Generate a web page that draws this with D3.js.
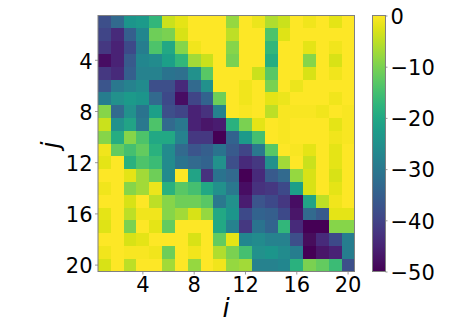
<!DOCTYPE html>
<html>
<head>
<meta charset="utf-8">
<script src="https://cdn.jsdelivr.net/npm/d3@7"></script>
<style>
    html, body { margin: 0; padding: 0; background: #fff; }
    text { font-family: "DejaVu Sans", sans-serif; fill: #000; }
</style>
</head>
<body>
<script>
const indices = d3.range(1, 21)
const tick_labels = [4, 8, 12, 16, 20]
const colorbar_ticks = [0, -10, -20, -30, -40, -50]
const values = [
    [-38, -33, -24, -23, -17, -4, -2, 0, 0, 0, -8, 0, -1.5, -6, -4, 0, -1, 0, -2, 0],
    [-40, -44, -35, -27, -11, -10, -3, 0, 0, 0, -5, 0, 0, -14, -2.5, 0, 0, 0, 0, 0],
    [-42, -45, -39, -29, -14, -20, -9, -1, 0, 0, -9, 0, 0, -17, 0, 0, -2, 0, -1, 0],
    [-48, -45, -36, -27, -26, -22, -17, -7, -4, 0, -10, 0, 0, -19, 0, 0, -9, 0, -3, 0],
    [-42, -44, -35, -28, -28, -31, -32, -25, -13, 0, 0, 0, -4, -13, 0, 0, -3, 0, -1, 0],
    [-37, -30, -28, -26, -38, -38, -44, -33, -25, 0, 0, -1, 0, -10, 0, -1.5, 0, 0, 0, 0],
    [-29, -25, -23, -24, -33, -39, -48, -40, -34, -11, 0, -1, 0, -2, -1.5, 0, 0, 0, -1, 0],
    [-9, -33, -25, -31, -22, -38, -40, -45, -43, -28, 0, -0.5, 0, -5, -0.5, -0.5, -0.5, -1, 0, -0.5],
    [-4, -25, -21, -30, -14, -33, -30, -45, -47, -46, -18, -10, -2, 0, -0.5, 0, 0, 0, -2, -0.5],
    [-9, -19, -9, -14, -20, -20, -28, -42, -42, -50, -34, -23, -15, 0, -0.5, 0, 0, 0, -1, -0.5],
    [-1, -12, -15, -12, -18, -26, -33, -37, -35, -31, -36, -40, -30, -13, 0, -0.5, -2, 0, -2, 0],
    [-2, 0, -18, -14, -16, -26, -31, -33, -34, -25, -38, -44, -42, -25, -7, 0, -4, 0, -2, 0],
    [0, 0, -2, -7, -11, -26, 0, -21, -43, -31, -33, -50, -44, -36, -33, -8, -3, 0, -3, 0],
    [-1, 0, -9, -7, -1.5, -18, -13, -15, -20, -25, -30, -48, -43, -42, -39, -22, -3, 0, -2, 0],
    [0, 0, -3, 0, -5, -9, -11, -11, -13, -30, -25, -46, -37, -39, -42, -48, -21, -5, -1, 0],
    [-2, 0, -5, -1, -1, -9, -7, -3, -8, -20, -24, -39, -34, -35, -39, -47, -33, -36, -2, -2],
    [-2.5, 0, -10, 0, -2, -12, 0, 0, 0, -20, -28, -42, -31, -34, -17, -44, -50, -50, -9, -9],
    [0, 0, -3, -2, 0, 0, 0, -3, 0, -12, -2, -27, -26, -28, -28, -38, -49, -44, -39, -29],
    [-1, 0, -0.5, -0.5, -1, -11, 0, -1, 0, -6, -10, -15, -25, -24, -26, -29, -50, -47, -45, -29],
    [-3, 0, -5, 0, 0, -7, 0, -8, 0, -1, -8, -7, -28, -28, -27, -18, -10, -12, -16, -38],
]

const width = 449
const height = 320
const frame_color = "#808080"
const plot = { left: 98, top: 15.5, right: 354.5, bottom: 271.5 }
const bar = { left: 372.5, right: 385.5 }

const svg = d3.select("body")
    .append("svg")
    .attr("width", width)
    .attr("height", height)
    .style("display", "block")

const x = d3.scaleBand().domain(indices).range([plot.left, plot.right])
const y = d3.scaleBand().domain(indices).range([plot.top, plot.bottom])
const color = d3.scaleSequential(d3.interpolateViridis).domain([-50, 0])

// the reference is a resampled raster, so soften the cell edges a little
const soften = svg.append("defs")
    .append("filter")
    .attr("id", "soften")
    .attr("x", 0).attr("y", 0)
    .attr("width", 1).attr("height", 1)
soften.append("feGaussianBlur").attr("stdDeviation", 0.5)

// heatmap cells, one row of the matrix per g
svg.append("g")
    .attr("filter", "url(#soften)")
    .selectAll("g")
    .data(values)
    .join("g")
    .attr("transform", (_, r) => `translate(0,${y(r + 1)})`)
    .selectAll("rect")
    .data((row) => row)
    .join("rect")
    .attr("x", (_, c) => x(c + 1))
    .attr("width", x.bandwidth() + 0.5)
    .attr("height", y.bandwidth() + 0.5)
    .attr("shape-rendering", "crispEdges")
    .attr("fill", (d) => color(d))

svg.append("rect")
    .attr("x", plot.left)
    .attr("y", plot.top)
    .attr("width", plot.right - plot.left)
    .attr("height", plot.bottom - plot.top)
    .attr("fill", "none")
    .attr("stroke", frame_color)

const style_axis = (g, font_size, shift) => {
    g.select(".domain").remove()
    g.selectAll("line").attr("stroke", frame_color).attr("stroke-width", 0.8)
    g.selectAll("text").attr("font-size", font_size).attr("transform", `translate(0,${shift})`)
}

svg.append("g")
    .attr("transform", `translate(0,${plot.bottom})`)
    .call(d3.axisBottom(x).tickValues(tick_labels).tickSize(3).tickPadding(3))
    .call(style_axis, 21, 0)

svg.append("g")
    .attr("transform", `translate(${plot.left},0)`)
    .call(d3.axisLeft(y).tickValues(tick_labels).tickSize(3).tickPadding(2.5))
    .call(style_axis, 21, 1.5)

svg.append("text")
    .attr("x", 226)
    .attr("y", 317)
    .attr("text-anchor", "middle")
    .attr("font-size", 26)
    .attr("font-style", "italic")
    .text("i")

svg.append("text")
    .attr("transform", "translate(59,145) rotate(-90)")
    .attr("text-anchor", "middle")
    .attr("font-size", 25)
    .attr("font-style", "italic")
    .text("j")

// colorbar
const gradient = svg.select("defs")
    .append("linearGradient")
    .attr("id", "viridis")
    .attr("x1", 0).attr("y1", 1)
    .attr("x2", 0).attr("y2", 0)
gradient.selectAll("stop")
    .data(d3.range(0, 1.01, 0.05))
    .join("stop")
    .attr("offset", (d) => d)
    .attr("stop-color", (d) => d3.interpolateViridis(d))

svg.append("rect")
    .attr("x", bar.left)
    .attr("y", plot.top)
    .attr("width", bar.right - bar.left)
    .attr("height", plot.bottom - plot.top)
    .attr("fill", "url(#viridis)")
    .attr("stroke", frame_color)

const bar_scale = d3.scaleLinear().domain([-50, 0]).range([plot.bottom, plot.top])
svg.append("g")
    .attr("transform", `translate(${bar.right},0)`)
    .call(d3.axisRight(bar_scale).tickValues(colorbar_ticks).tickSize(2)
        .tickPadding(3).tickFormat((d) => String(d).replace("-", "\u2212")))
    .call(style_axis, 21, 1)
</script>
</body>
</html>
